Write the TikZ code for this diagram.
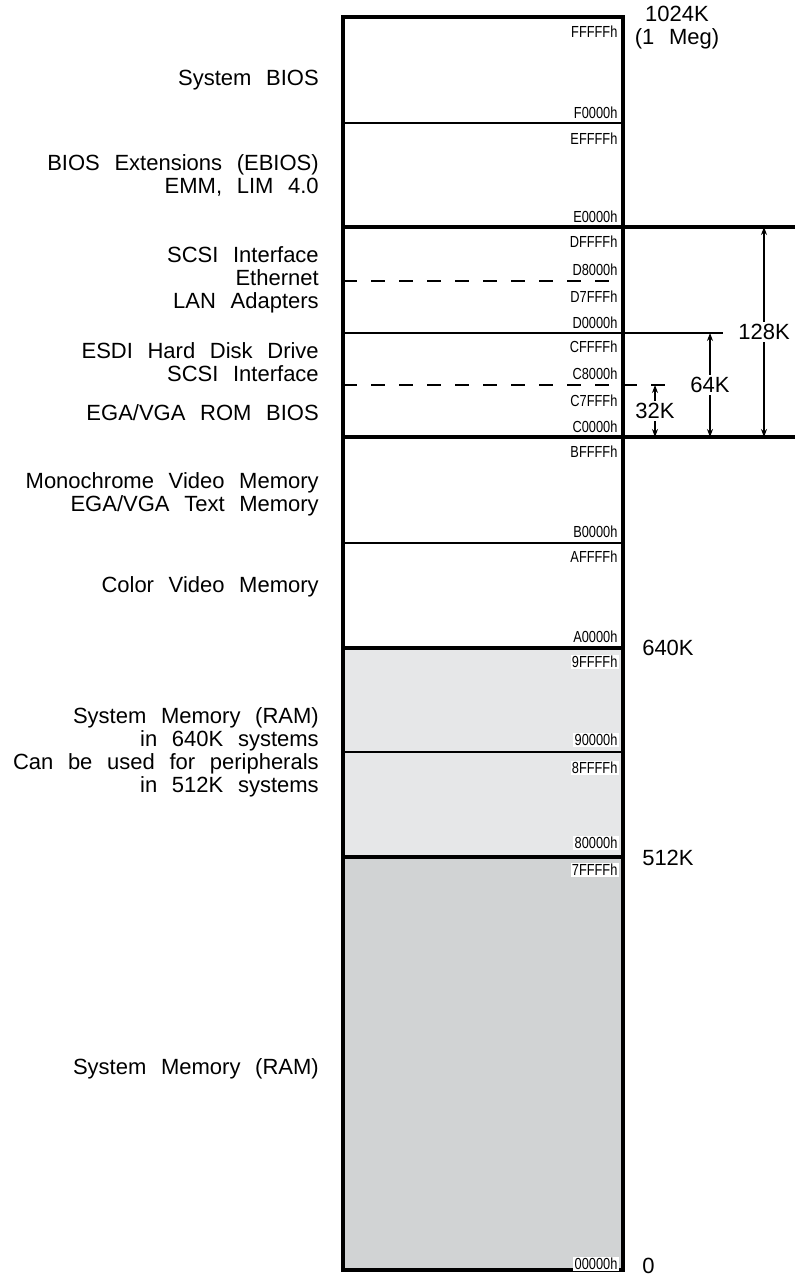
\documentclass[tikz,border=0pt]{standalone}
\usepackage{fontspec}
\setmainfont{Liberation Sans}[WordSpace=2.4]
\newfontfamily\addrfont{Liberation Sans}[FakeStretch=0.8]
\usepackage{tikz}
\usetikzlibrary{arrows.meta, positioning}
\definecolor{ramlight}{HTML}{E6E7E8}
\definecolor{ramdark}{HTML}{D1D3D4}

\tikzset{
  area/.style={anchor=east, align=right, inner sep=0pt, font=\fontsize{16.5}{17.3}\selectfont},
  addr/.style={anchor=east, fill=white, inner sep=1pt, font=\addrfont\fontsize{12}{13}\selectfont},
  kilo/.style={inner sep=0pt, font=\fontsize{16.5}{17.3}\selectfont},
  span/.style={fill=white, inner sep=1.5pt, font=\fontsize{16.5}{17.3}\selectfont},
  heavyline/.style={line width=2.7pt},
  lightline/.style={line width=0.9pt},
  dashline/.style={line width=0.9pt, dash pattern=on 10.5pt off 10.5pt}
}

\begin{document}
\begin{tikzpicture}[x=0.75pt, y=-0.75pt, >={Stealth[length=6pt, width=4.5pt]}]
  \useasboundingbox (0,0) rectangle (795,1278);

  % levels at the left edge of the map
  \coordinate (top) at (343,17);
  \coordinate (f0) at (343,123);
  \coordinate (e0) at (343,227);
  \coordinate (d8) at (343,281);
  \coordinate (d0) at (343,333);
  \coordinate (c8) at (343,385);
  \coordinate (c0) at (343,437);
  \coordinate (b0) at (343,543);
  \coordinate (a0) at (343,648);
  \coordinate (n0) at (343,752);
  \coordinate (x8) at (343,857);
  \coordinate (bot) at (623,1270);

  % shaded RAM
  \fill[ramlight] (a0) rectangle (623,857);
  \fill[ramdark] (x8) rectangle (bot);

  % dividers
  \draw[lightline] (f0) -- ++(280,0);
  \draw[dashline] (d8) -- ++(280,0);
  \draw[lightline] (d0) -- ++(380,0);
  \draw[dashline] (c8) -- ++(322,0);
  \draw[lightline] (b0) -- ++(280,0);
  \draw[lightline] (n0) -- ++(280,0);
  \draw[heavyline] (e0) -- ++(452,0);
  \draw[heavyline] (c0) -- ++(452,0);
  \draw[heavyline] (a0) -- ++(280,0);
  \draw[heavyline] (x8) -- ++(280,0);
  \draw[heavyline] (top) rectangle (bot);

  % addresses
  \foreach \y/\t [count=\i] in {32/FFFFFh, 113/F0000h, 139/EFFFFh, 217/E0000h,
      242/DFFFFh, 270/D8000h, 297/D7FFFh, 323/D0000h, 347/CFFFFh, 374/C8000h,
      401/C7FFFh, 427/C0000h, 452/BFFFFh, 532/B0000h, 557/AFFFFh, 637/A0000h,
      662/9FFFFh, 740/90000h, 768/8FFFFh, 843/80000h, 870/7FFFFh, 1264/00000h}
    \node[addr] (adr\i) at (619,\y) {\t};

  % what sits where
  \node[area] (sbios) at (319,80) {System BIOS};
  \node[area] (ebios) at (319,175) {BIOS Extensions (EBIOS)\\EMM, LIM 4.0};
  \node[area] (lan) at (319,280) {SCSI Interface\\Ethernet\\LAN Adapters};
  \node[area] (esdi) at (319,362) {ESDI Hard Disk Drive\\SCSI Interface};
  \node[area] (vrom) at (319,413) {EGA/VGA ROM BIOS};
  \node[area] (mono) at (319,494) {Monochrome Video Memory\\EGA/VGA Text Memory};
  \node[area] (color) at (319,587) {Color Video Memory};
  \node[area] (ram640) at (319,752) {System Memory (RAM)\\in 640K systems\\Can be used for peripherals\\in 512K systems};
  \node[area] (ram) at (319,1069) {System Memory (RAM)};

  % sizes on the right
  \node[kilo, align=center] (meg) at (677,28) {1024K\\(1 Meg)};
  \node[kilo, anchor=west] (k640) at (642,648) {640K};
  \node[kilo, anchor=west] (k512) at (642,858) {512K};
  \node[kilo, anchor=west] (k0) at (642,1266) {0};

  % windows in the ROM area
  \coordinate (w32a) at (655,385);
  \coordinate (w32b) at (655,437);
  \coordinate (w64a) at (710,333);
  \coordinate (w64b) at (710,437);
  \coordinate (w128a) at (764,227);
  \coordinate (w128b) at (764,437);
  \draw[<->, line width=0.8pt] (w32a) -- node[span] (s32) {32K} (w32b);
  \draw[<->, line width=0.8pt] (w64a) -- node[span] (s64) {64K} (w64b);
  \draw[<->, line width=0.8pt] (w128a) -- node[span] (s128) {128K} (w128b);
\end{tikzpicture}
\end{document}
